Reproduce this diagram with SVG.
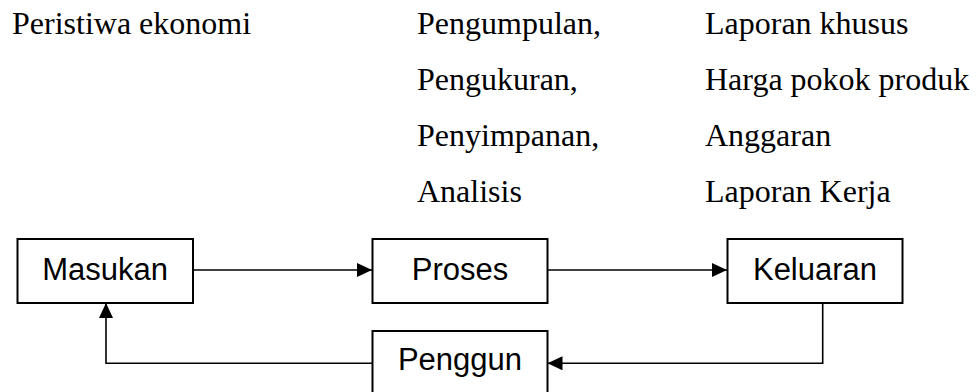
<svg xmlns="http://www.w3.org/2000/svg" width="976" height="392" viewBox="0 0 976 392">
<style>
.lbl{font-family:"Liberation Serif","Times New Roman",serif;font-size:32px;fill:#000}
.box{fill:#fff;stroke:#000;stroke-width:2}
.bt{font-family:"Liberation Sans",Arial,sans-serif;font-size:31px;fill:#000;text-anchor:middle}
.con{fill:none;stroke:#000;stroke-width:1.6}
</style>
<defs>
<marker id="ah" markerUnits="userSpaceOnUse" markerWidth="15" markerHeight="14" refX="15" refY="7" orient="auto">
<path d="M0,0 L15,7 L0,14 z" fill="#000"/>
</marker>
</defs>
<rect width="976" height="392" fill="#fff"/>
<g id="labels">
<text class="lbl" x="12" y="34">Peristiwa ekonomi</text>
<text class="lbl" x="417" y="34">Pengumpulan,</text>
<text class="lbl" x="417" y="90">Pengukuran,</text>
<text class="lbl" x="417" y="146">Penyimpanan,</text>
<text class="lbl" x="417" y="202">Analisis</text>
<text class="lbl" x="705" y="34">Laporan khusus</text>
<text class="lbl" x="705" y="90">Harga pokok produk</text>
<text class="lbl" x="705" y="146">Anggaran</text>
<text class="lbl" x="705" y="202">Laporan Kerja</text>
</g>
<g id="connectors">
<path class="con" d="M193 270 H372" marker-end="url(#ah)"/>
<path class="con" d="M547.5 270 H727" marker-end="url(#ah)"/>
<path class="con" d="M822.7 303 V363.3 H547.5" marker-end="url(#ah)"/>
<path class="con" d="M372.5 363.3 H106 V303" marker-end="url(#ah)"/>
</g>
<g id="masukan">
<rect class="box" x="17.5" y="239" width="175.5" height="64"/>
<text class="bt" x="105.2" y="280">Masukan</text>
</g>
<g id="proses">
<rect class="box" x="372.5" y="239" width="175" height="64"/>
<text class="bt" x="460" y="280">Proses</text>
</g>
<g id="keluaran">
<rect class="box" x="727.5" y="239" width="175" height="64"/>
<text class="bt" x="815" y="280">Keluaran</text>
</g>
<g id="penggun">
<rect class="box" x="372.5" y="331" width="175" height="64"/>
<text class="bt" x="460" y="370">Penggun</text>
</g>
</svg>
